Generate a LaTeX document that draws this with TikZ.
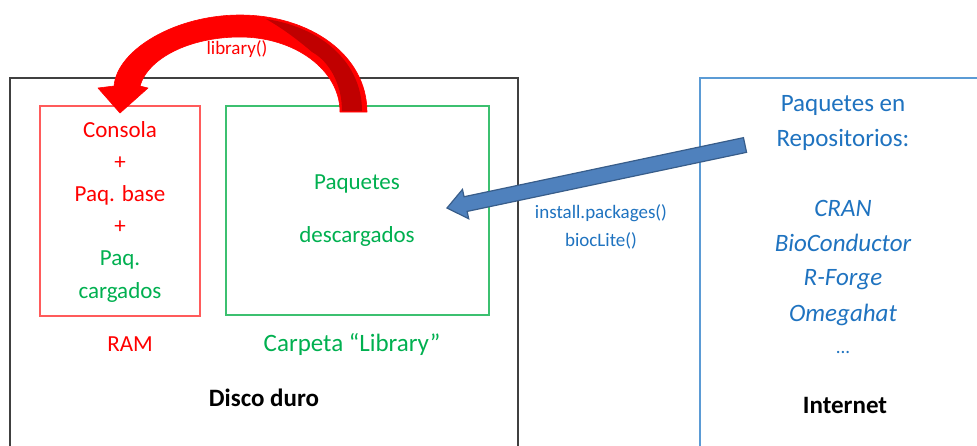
\documentclass[tikz,border=0pt]{standalone}
\usepackage{fontspec}
\setmainfont{Carlito}
\usetikzlibrary{calc}
\definecolor{redtxt}{HTML}{FF0000}
\definecolor{redbox}{HTML}{FF5B5B}
\definecolor{reddark}{HTML}{C00000}
\definecolor{greentxt}{HTML}{00B050}
\definecolor{greenbox}{HTML}{3CC070}
\definecolor{bluetxt}{HTML}{1F73C0}
\definecolor{bluebox}{HTML}{5B9BD5}
\definecolor{bluefill}{HTML}{4F81BD}
\definecolor{bluedark}{HTML}{385D8A}
\definecolor{graybox}{HTML}{404040}
\begin{document}
\begin{tikzpicture}[x=1pt,y=-1pt,
  every node/.style={inner sep=0pt, outer sep=0pt},
  main/.style={font=\fontsize{23}{27}\selectfont, anchor=base},
  big/.style={font=\fontsize{25}{29}\selectfont, anchor=base},
  bigit/.style={font=\fontsize{25}{29}\selectfont\itshape, anchor=base},
  small/.style={font=\fontsize{19}{23}\selectfont, anchor=base},
  boldtxt/.style={font=\fontsize{25}{29}\selectfont\bfseries, anchor=base, text=black},
  frame/.style={draw, line width=1.4pt, anchor=north west},
]
\useasboundingbox (0,0) rectangle (977,445);
\clip (0,0) rectangle (977,445);
\fill[white] (0,0) rectangle (977,445);

% boxes
\node[frame, draw=graybox, minimum width=508pt, minimum height=420pt] (disco) at (10,78) {};
\node[frame, draw=bluebox, minimum width=320pt, minimum height=420pt] (net) at (700,78) {};
\node[frame, draw=redbox, minimum width=160pt, minimum height=210pt] (ram) at (40,106) {};
\node[frame, draw=greenbox, minimum width=263pt, minimum height=209pt] (lib) at (226,106) {};

% RAM contents
\node[main, text=redtxt] (c1) at (120,137) {Consola};
\node[main, text=redtxt] (c2) at (120,169) {+};
\node[main, text=redtxt] (c3) at (120,201) {Paq. base};
\node[main, text=redtxt] (c4) at (120,233) {+};
\node[main, text=greentxt] (c5) at (120,265) {Paq.};
\node[main, text=greentxt] (c6) at (120,298) {cargados};

% library contents
\node[main, text=greentxt] (l1) at (357,189) {Paquetes};
\node[main, text=greentxt] (l2) at (357,242) {descargados};

% labels below
\node[main, text=redtxt] (ramlbl) at (130,351) {RAM};
\node[big, text=greentxt] (liblbl) at (352,351) {Carpeta “Library”};
\node[boldtxt] (discolbl) at (264,406) {Disco duro};

% internet contents
\node[big, text=bluetxt] (n1) at (843,111) {Paquetes en};
\node[big, text=bluetxt] (n2) at (843,146) {Repositorios:};
\node[bigit, text=bluetxt] (n3) at (843,216) {CRAN};
\node[bigit, text=bluetxt] (n4) at (843,251) {BioConductor};
\node[bigit, text=bluetxt] (n5) at (843,285) {R-Forge};
\node[bigit, text=bluetxt] (n6) at (843,321) {Omegahat};
\node[small, text=bluetxt] (n7) at (843,353) {...};
\node[boldtxt] (netlbl) at (845,413) {Internet};

% install labels
\node[small, text=bluetxt] (inst) at (601,218) {install.packages()};
\node[small, text=bluetxt] (bioc) at (601,246) {biocLite()};

% library() label
\node[small, text=redtxt] (libcall) at (237,54) {library()};

% red curved arrow
\fill[redtxt, draw=redtxt, line width=0.6pt, line join=round]
  (367,112) .. controls (367,55) and (310,15) .. (240,15)
  .. controls (175,15) and (117,50) .. (114,86)
  -- (98,88) -- (120,113) -- (148,88) -- (140,86)
  .. controls (148,58) and (190,37) .. (240,37)
  .. controls (295,37) and (340,70) .. (340,112) -- cycle;
\fill[reddark]
  (266,19) .. controls (325,28) and (362,65) .. (362,111)
  -- (342,111) .. controls (342,85) and (330,62) .. (312,52)
  .. controls (298,40) and (282,28) .. (266,19) -- cycle;

% blue arrow
\coordinate (bt) at (745,145);
\coordinate (bh) at (447,208);
\coordinate (bb) at ($(bh)!19pt!(bt)$);
\filldraw[fill=bluefill, draw=bluedark, line width=1.2pt, line join=miter]
  ($(bt)!7.5pt!90:(bh)$) -- ($(bb)!7.5pt!-90:(bt)$) -- ($(bb)!15pt!-90:(bt)$)
  -- (bh) -- ($(bb)!15pt!90:(bt)$) -- ($(bb)!7.5pt!90:(bt)$)
  -- ($(bt)!7.5pt!-90:(bh)$) -- cycle;
\end{tikzpicture}
\end{document}
